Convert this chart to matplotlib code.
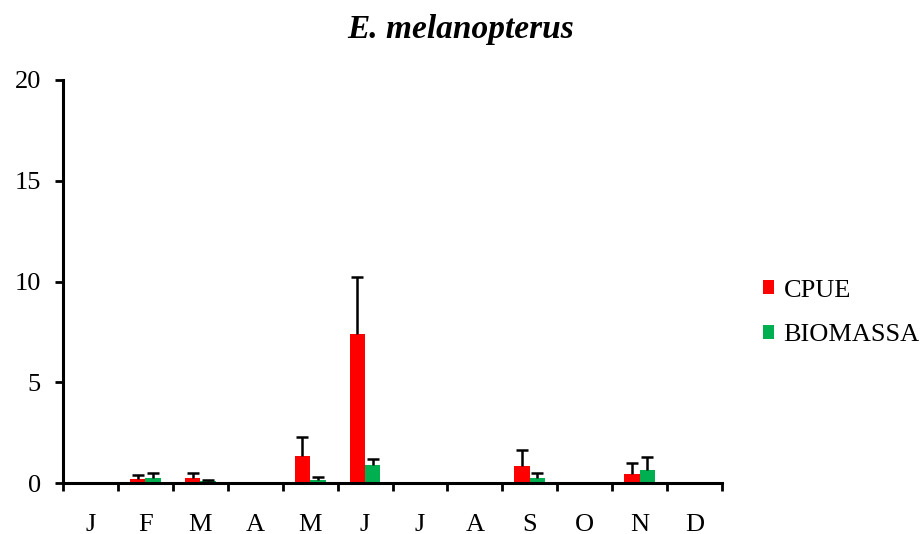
import matplotlib
matplotlib.use("Agg")
import matplotlib.pyplot as plt
import numpy as np
from matplotlib.ticker import FixedLocator, NullFormatter

plt.rcParams['font.family'] = ['Liberation Serif', 'DejaVu Serif']

months = ['J', 'F', 'M', 'A', 'M', 'J', 'J', 'A', 'S', 'O', 'N', 'D']
cpue = [0, 0.2, 0.26, 0, 1.34, 7.39, 0, 0, 0.83, 0, 0.45, 0]
cpue_err = [0, 0.21, 0.24, 0, 0.93, 2.82, 0, 0, 0.79, 0, 0.54, 0]
biomassa = [0, 0.26, 0.12, 0, 0.15, 0.89, 0, 0, 0.26, 0, 0.65, 0]
biomassa_err = [0, 0.24, 0.05, 0, 0.13, 0.29, 0, 0, 0.22, 0, 0.64, 0]

red = '#FF0000'
green = '#00B050'

fig = plt.figure(figsize=(9.21, 5.34), dpi=100)
ax = fig.add_axes([63 / 921, 51 / 534, (722 - 63) / 921, (483 - 80) / 534])

x = np.arange(len(months))
w = 0.28


def upper_errors(xpos, vals, errs):
    """Draw one-sided (upward) error bars with a cap only at the top."""
    xpos = np.asarray(xpos, float)
    vals = np.asarray(vals, float)
    errs = np.asarray(errs, float)
    m = errs > 0
    ax.vlines(xpos[m], vals[m], vals[m] + errs[m], color='black',
              linewidth=1.8, zorder=3)
    ax.plot(xpos[m], vals[m] + errs[m], linestyle='none', marker='_',
            markersize=8, markeredgewidth=1.8, color='black', zorder=3)


ax.bar(x - w / 2, cpue, w, color=red, label='CPUE', zorder=2)
ax.bar(x + w / 2, biomassa, w, color=green, label='BIOMASSA', zorder=2)
upper_errors(x - w / 2, cpue, cpue_err)
upper_errors(x + w / 2, biomassa, biomassa_err)

ax.set_xlim(-0.5, len(months) - 0.5)
ax.set_ylim(0, 20)
ax.set_yticks([0, 5, 10, 15, 20])

# month boundaries carry the tick marks, month centres carry the labels
ax.xaxis.set_major_locator(FixedLocator(np.arange(-0.5, len(months), 1.0)))
ax.xaxis.set_major_formatter(NullFormatter())
ax.xaxis.set_minor_locator(FixedLocator(x))
ax.set_xticklabels(months, minor=True)
ax.tick_params(axis='x', which='major', direction='out', length=6, width=2)
ax.tick_params(axis='x', which='minor', length=0, pad=22, labelsize=19)
ax.tick_params(axis='y', direction='out', length=6, width=2, labelsize=19, pad=10)

for s in ['top', 'right']:
    ax.spines[s].set_visible(False)
for s in ['left', 'bottom']:
    ax.spines[s].set_linewidth(2.2)

fig.text(0.5, 0.944, 'E. melanopterus', ha='center', va='center',
         fontsize=24, style='italic', weight='bold')

fig.legend(loc='center left', bbox_to_anchor=(752 / 921, 1 - 313 / 534),
           frameon=False, fontsize=19, handlelength=0.45, handleheight=0.45,
           handletextpad=0.35, labelspacing=0.85, borderaxespad=0)

fig.savefig('out.png', dpi=100)
